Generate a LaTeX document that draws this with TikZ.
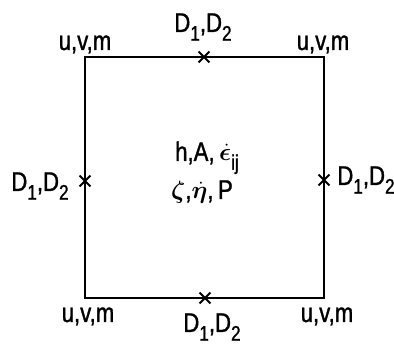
\documentclass[tikz,border=0pt]{standalone}
\usepackage{bm}
\usepackage{fontspec}
\setmainfont{Liberation Sans}[FakeStretch=0.82,FakeBold=1.2]
\usetikzlibrary{shapes.misc}
\begin{document}
\begin{tikzpicture}[x=1pt,y=-1pt,
  lbl/.style={anchor=base,inner sep=0pt,font=\fontsize{27}{30}\selectfont},
  xmark/.style={cross out,draw,line width=1.8pt,minimum size=9pt,inner sep=0pt},
  edge/.style={line width=1.8pt}]
\useasboundingbox (0,0) rectangle (394,352);
\newcommand\sbq[1]{\raisebox{-0.32em}{\fontsize{21}{22}\selectfont #1}}
\coordinate (tl) at (85,57);
\coordinate (tr) at (324,57);
\coordinate (br) at (324,298);
\coordinate (bl) at (85,298);
\node[xmark] (xt) at (204,57) {};
\node[xmark] (xb) at (205,298) {};
\node[xmark] (xl) at (85,181) {};
\node[xmark] (xr) at (324,180) {};
\draw[edge,line join=miter] (tl) -- (xt.center) -- (tr) -- (xr.center) -- (br) -- (xb.center) -- (bl) -- (xl.center) -- (tl) -- (xt.center);
\node[lbl] (ltl) at (85,50) {u,v,m};
\node[lbl] (ltr) at (323,50) {u,v,m};
\node[lbl] (lbl) at (88,322) {u,v,m};
\node[lbl] (lbr) at (327,322) {u,v,m};
\node[lbl] (dt) at (203,32) {D\sbq{1},D\sbq{2}};
\node[lbl] (db) at (212,332) {D\sbq{1},D\sbq{2}};
\node[lbl] (dl) at (40,191) {D\sbq{1},D\sbq{2}};
\node[lbl] (dr) at (366,185) {D\sbq{1},D\sbq{2}};
\node[lbl] (c1) at (207,161) {h,A,\,$\bm{\dot{\epsilon}}$\sbq{ij}};
\node[lbl] (c2) at (202,199) {$\bm{\zeta}$,$\bm{\dot{\eta}}$,\,P};
\end{tikzpicture}
\end{document}
